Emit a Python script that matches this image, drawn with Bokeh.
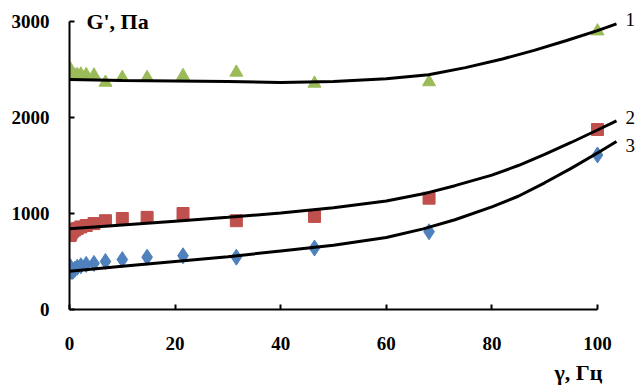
from bokeh.plotting import figure
from bokeh.models import Range1d, Label, FixedTicker, Title
from bokeh.embed import file_html
from bokeh.resources import INLINE

# shear frequency, Hz
freq = [0.1, 0.147, 0.215, 0.316, 0.464, 0.681, 1.0, 1.47, 2.15, 3.16,
        4.64, 6.81, 10.0, 14.7, 21.5, 31.6, 46.4, 68.1, 100.0]
# G', Pa (measured points)
g1 = [2510, 2470, 2450, 2440, 2440, 2430, 2440, 2445, 2450, 2445,
      2440, 2365, 2415, 2415, 2435, 2470, 2355, 2370, 2900]
g2 = [770, 780, 790, 800, 810, 820, 830, 845, 860, 875,
      895, 925, 948, 960, 1000, 925, 970, 1160, 1875]
g3 = [450, 430, 410, 400, 395, 400, 420, 440, 455, 470,
      480, 500, 520, 545, 560, 545, 640, 810, 1610]

# trend curves
trend1_x = [0, 10, 20, 30, 40, 50, 60, 68, 75, 82, 88, 94, 100, 103.6]
trend1_y = [2396, 2385, 2380, 2375, 2365, 2375, 2405, 2445, 2520, 2610, 2700, 2800, 2905, 2976]
trend23_x = [0, 10, 20, 30, 40, 50, 60, 67, 73, 80, 85, 90, 95, 100, 103.6]
trend2_y = [840, 880, 920, 960, 1005, 1060, 1130, 1205, 1290, 1400, 1500, 1615, 1740, 1870, 1965]
trend3_y = [399, 450, 500, 550, 610, 670, 750, 840, 935, 1070, 1180, 1320, 1470, 1630, 1750]

x_ticks = [0, 20, 40, 60, 80, 100]
y_ticks = [0, 1000, 2000, 3000]
curve_labels = ["1", "2", "3"]

FONT = "Liberation Serif"

p = figure(width=635, height=392, output_backend="svg", toolbar_location=None,
           x_range=Range1d(0, 107.2), y_range=Range1d(0, 3115),
           min_border_left=69, min_border_right=0, min_border_top=10,
           min_border_bottom=83)
p.outline_line_color = None
p.xgrid.visible = False
p.ygrid.visible = False
p.background_fill_color = "white"

for ax, ticks, bounds in ((p.xaxis[0], x_ticks, (0, 100)), (p.yaxis[0], y_ticks, (0, 3000))):
    ax.ticker = FixedTicker(ticks=ticks)
    ax.bounds = bounds
    ax.axis_line_color = "black"
    ax.axis_line_width = 2
    ax.major_tick_line_color = "black"
    ax.major_tick_line_width = 2
    ax.major_tick_in = 5
    ax.major_tick_out = 0
    ax.minor_tick_line_color = None
    ax.major_label_text_font = FONT
    ax.major_label_text_font_style = "bold"
    ax.major_label_text_font_size = "19px"
    ax.major_label_text_color = "black"

p.xaxis[0].major_label_standoff = 27
p.yaxis[0].major_label_standoff = 20

# x-axis title, right-aligned below the axis
p.add_layout(Title(text="γ, Гц", align="right", offset=33, standoff=11,
                   text_font=FONT, text_font_size="22px", text_font_style="bold",
                   text_color="black"), "below")

# markers
p.scatter(freq, g1, marker="triangle", size=13, color="#9BBB59")
p.scatter(freq, g2, marker="square", size=12, color="#C0504D")
p.scatter(freq, g3, marker="diamond", size=16, color="#4F81BD")

# trend lines
p.line(trend1_x, trend1_y, line_color="black", line_width=3)
p.line(trend23_x, trend2_y, line_color="black", line_width=3)
p.line(trend23_x, trend3_y, line_color="black", line_width=3)

# curve labels
for lbl, yv in zip(curve_labels, [3021, 2000, 1708]):
    p.add_layout(Label(x=105.3, y=yv, text=lbl, text_font=FONT, text_font_size="19px",
                       text_baseline="middle", text_align="left", text_color="black"))

p.add_layout(Label(x=3.2, y=3000, text="G', Па", text_font=FONT, text_font_size="22px",
                   text_font_style="bold", text_baseline="middle", text_align="left",
                   text_color="black"))

open("out.html", "w").write(file_html(p, INLINE))
